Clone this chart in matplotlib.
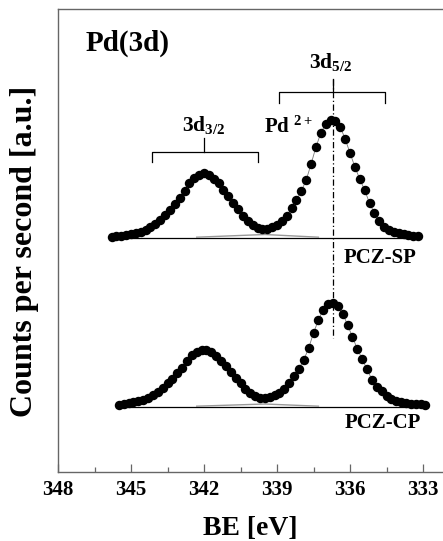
import matplotlib
matplotlib.use("Agg")
import matplotlib.pyplot as plt
from matplotlib.ticker import MultipleLocator, FixedLocator

plt.rcParams['font.family'] = ['Liberation Serif', 'DejaVu Serif']
plt.rcParams['font.weight'] = 'bold'
plt.rcParams['mathtext.fontset'] = 'custom'
plt.rcParams['mathtext.rm'] = 'Liberation Serif:bold'
plt.rcParams['mathtext.bf'] = 'Liberation Serif:bold'
plt.rcParams['mathtext.it'] = 'Liberation Serif:bold:italic'

# ---- data (binding energy in eV, counts in arbitrary units) ----
be_sp = [345.8, 345.6, 345.4, 345.2, 345.0, 344.8, 344.6, 344.4, 344.2, 344.0,
         343.8, 343.6, 343.4, 343.2, 343.0, 342.8, 342.6, 342.4, 342.2, 342.0,
         341.8, 341.6, 341.4, 341.2, 341.0, 340.8, 340.6, 340.4, 340.2, 340.0,
         339.8, 339.6, 339.4, 339.2, 339.0, 338.8, 338.6, 338.4, 338.2, 338.0,
         337.8, 337.6, 337.4, 337.2, 337.0, 336.8, 336.6, 336.4, 336.2, 336.0,
         335.8, 335.6, 335.4, 335.2, 335.0, 334.8, 334.6, 334.4, 334.2, 334.0,
         333.8, 333.6, 333.4, 333.2]
counts_sp = [235, 236, 236, 237, 238, 239, 240, 242, 245, 248,
             252, 257, 262, 268, 274, 281, 289, 294, 297, 299,
             297, 293, 289, 282, 276, 269, 263, 256, 251, 247,
             244, 243, 243, 245, 247, 251, 256, 264, 272, 281,
             292, 308, 325, 339, 348, 352, 351, 345, 333, 319,
             305, 293, 282, 269, 259, 251, 245, 242, 240, 239,
             238, 237, 236, 236]

be_cp = [345.5, 345.3, 345.1, 344.9, 344.7, 344.5, 344.3, 344.1, 343.9, 343.7,
         343.5, 343.3, 343.1, 342.9, 342.7, 342.5, 342.3, 342.1, 341.9, 341.7,
         341.5, 341.3, 341.1, 340.9, 340.7, 340.5, 340.3, 340.1, 339.9, 339.7,
         339.5, 339.3, 339.1, 338.9, 338.7, 338.5, 338.3, 338.1, 337.9, 337.7,
         337.5, 337.3, 337.1, 336.9, 336.7, 336.5, 336.3, 336.1, 335.9, 335.7,
         335.5, 335.3, 335.1, 334.9, 334.7, 334.5, 334.3, 334.1, 333.9, 333.7,
         333.5, 333.3, 333.1, 332.9]
counts_cp = [67.5, 68, 69, 70, 71, 72, 74.5, 77, 80, 84,
             89, 93, 99, 104, 111, 117, 120, 122, 122, 120,
             116, 111, 106, 100, 94, 89, 83, 79, 76, 74.5,
             74, 75, 77, 79, 83, 89, 96, 103.5, 112, 124,
             139, 152, 162.5, 168, 169.5, 166, 158.5, 147, 135, 123,
             113, 102.6, 92.5, 84.6, 81, 76, 73, 71, 70, 69,
             68.5, 68, 68, 67.5]

# background lines (start BE, end BE, level)
bg_sp = [345.8, 333.1]
bg_sp_level = 234.5
bg_cp = [345.6, 332.8]
bg_cp_level = 65.5
# grey component tails near the valley
comp_be = [342.3, 339.5, 337.3]
comp_sp = [234.8, 237.5, 234.8]
comp_cp = [65.8, 68.0, 65.8]

x_ticks = [348, 345, 342, 339, 336, 333]
sample_labels = ["PCZ-SP", "PCZ-CP"]
peak_3d52 = 336.7
peak_3d32 = 342.0

fig = plt.figure(figsize=(4.43, 5.41), dpi=100)
ax = fig.add_axes([58 / 443, 69 / 541, 385 / 443, 463 / 541])
ax.set_xlim(348, 332.18)
ax.set_ylim(0, 463)

for be, cnt, bg, lvl, cl in [(be_sp, counts_sp, bg_sp, bg_sp_level, comp_sp),
                             (be_cp, counts_cp, bg_cp, bg_cp_level, comp_cp)]:
    ax.plot(bg, [lvl, lvl], color='black', lw=0.9, zorder=1)
    ax.plot(comp_be, cl, color='#999999', lw=1.0, zorder=1)
    ax.plot(be, cnt, color='#777777', lw=0.6, zorder=2)
    ax.plot(be, cnt, 'o', color='black', ms=6.8, mec='black', mew=0, zorder=3)

# dash-dot line at 3d5/2
ax.plot([peak_3d52, peak_3d52], [393, 134], color='black', lw=0.9,
        linestyle=(0, (5, 2, 1, 2)), zorder=2)

# brackets
def bracket(x0, x1, xc, yh, yend, ytop):
    ax.plot([x0, x0, x1, x1], [yend, yh, yh, yend], color='black', lw=0.9)
    ax.plot([xc, xc], [yh, ytop], color='black', lw=0.9)

bracket(344.15, 339.8, peak_3d32, 320, 310, 334)
bracket(338.9, 334.55, peak_3d52, 380, 369, 393)

ax.text(346.85, 429, "Pd(3d)", fontsize=21, fontweight='bold', ha='left', va='center')
ax.text(peak_3d32, 347, r"3d$_{\mathrm{3/2}}$", fontsize=15.5, fontweight='bold',
        ha='center', va='center')
ax.text(336.8, 410, r"3d$_{\mathrm{5/2}}$", fontsize=15.5, fontweight='bold',
        ha='center', va='center')
ax.text(339.55, 345, r"Pd $^{\mathrm{2+}}$", fontsize=15, fontweight='bold',
        ha='left', va='center')
ax.text(333.28, 214, sample_labels[0], fontsize=15, fontweight='bold',
        ha='right', va='center')
ax.text(333.08, 49, sample_labels[1], fontsize=15, fontweight='bold',
        ha='right', va='center')

# axes styling
spine_col = '#666666'
for s in ['left', 'top', 'bottom']:
    ax.spines[s].set_color(spine_col)
    ax.spines[s].set_linewidth(1.0)
ax.spines['right'].set_visible(False)

ax.xaxis.set_major_locator(FixedLocator(x_ticks))
ax.xaxis.set_minor_locator(MultipleLocator(1.5))
ax.tick_params(axis='x', which='major', direction='in', length=6, width=0.9,
               color=spine_col, pad=6, labelsize=15)
ax.tick_params(axis='x', which='minor', direction='in', length=3.5, width=0.9,
               color=spine_col)
for lab in ax.get_xticklabels():
    lab.set_fontweight('bold')
ax.set_yticks([])

ax.set_xlabel("BE [eV]", fontsize=20, fontweight='bold', labelpad=11)
ax.set_ylabel("Counts per second [a.u.]", fontsize=23, fontweight='bold')
ax.yaxis.set_label_coords(-0.05, 0.477)

fig.savefig("out.png", dpi=100)
